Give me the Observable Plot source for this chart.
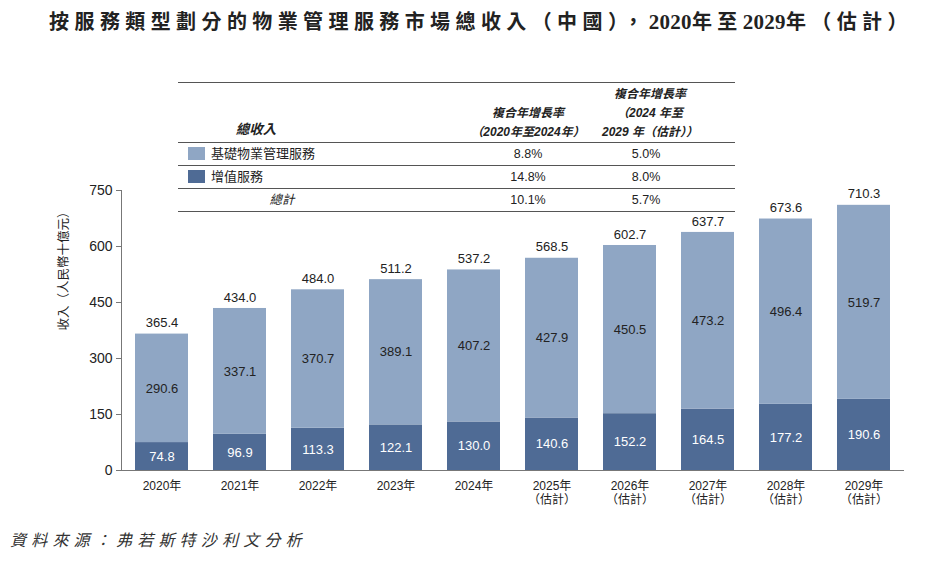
<!DOCTYPE html>
<html>
<head>
<meta charset="utf-8">
<script src="https://cdn.jsdelivr.net/npm/d3@7"></script>
<script src="https://cdn.jsdelivr.net/npm/@observablehq/plot@0.6"></script>
<style>
  body { margin: 0; background: #fff; }
  #wrap { position: relative; width: 945px; height: 565px; overflow: hidden; font-family: "Liberation Sans", "Noto Sans CJK TC", sans-serif; color: #222; }
  .abs { position: absolute; white-space: nowrap; }
  #title { top: 8px; left: 0; width: 962px; text-align: center; font-family: "Liberation Serif", "Noto Sans CJK TC", serif; font-weight: bold; font-size: 20px; letter-spacing: 5.4px; line-height: 28px; color: #222; }
  #title .num { letter-spacing: 0.3px; font-size: 21px; }
  #source { top: 528px; left: 10px; font-family: "Liberation Serif", "Noto Sans CJK TC", serif; font-style: italic; font-size: 16px; letter-spacing: 5.2px; line-height: 26px; color: #333; }
  #chart { position: absolute; top: 40px; left: 0; }
  .hline { position: absolute; left: 178px; width: 557px; height: 0; border-top: 1.2px solid #555; }
  .cell { position: absolute; font-size: 12px; line-height: 16px; text-align: center; }
  .hdr { font-style: italic; font-weight: bold; }
  .sw { position: absolute; width: 17px; height: 13px; }
</style>
</head>
<body>
<div id="wrap">
  <div id="title" class="abs">按服務類型劃分的物業管理服務市場總收入（中國），<span class="num">2020</span>年至<span class="num">2029</span>年（估計）</div>
  <div id="chart"></div>
  <div id="table"></div>
  <div id="source" class="abs">資料來源：弗若斯特沙利文分析</div>
</div>
<script>
const years = ["2020","2021","2022","2023","2024","2025","2026","2027","2028","2029"];
const forecastYears = ["2025","2026","2027","2028","2029"];
const basicServices = [290.6,337.1,370.7,389.1,407.2,427.9,450.5,473.2,496.4,519.7];
const valueAddedServices = [74.8,96.9,113.3,122.1,130.0,140.6,152.2,164.5,177.2,190.6];
const totals = [365.4,434.0,484.0,511.2,537.2,568.5,602.7,637.7,673.6,710.3];
const seriesNames = ["增值服務","基礎物業管理服務"];
const seriesColors = ["#4f6b95","#8fa6c4"];
const yTicks = [0,150,300,450,600,750];
const cagrRows = [
  {name: "基礎物業管理服務", c1: "8.8%", c2: "5.0%"},
  {name: "增值服務", c1: "14.8%", c2: "8.0%"},
  {name: "總計", c1: "10.1%", c2: "5.7%"}
];

const stacked = [];
years.forEach((y, i) => {
  stacked.push({year: y, series: seriesNames[0], value: valueAddedServices[i]});
  stacked.push({year: y, series: seriesNames[1], value: basicServices[i]});
});
const totalData = years.map((y, i) => ({year: y, value: totals[i]}));

const fmtX = y => forecastYears.includes(y) ? `${y}年\n（估計）` : `${y}年`;

const chart = Plot.plot({
  width: 945,
  height: 480,
  marginTop: 150,
  marginBottom: 50,
  marginLeft: 121,
  marginRight: 41,
  style: {fontFamily: "'Liberation Sans', 'Noto Sans CJK TC', sans-serif", color: "#222", background: "transparent"},
  x: {domain: years, paddingInner: 0.32, paddingOuter: 0.17, label: null},
  y: {domain: [0, 750], label: null},
  color: {domain: seriesNames, range: seriesColors},
  marks: [
    Plot.barY(stacked, {x: "year", y: "value", fill: "series", order: seriesNames}),
    Plot.text(stacked, Plot.stackY({x: "year", y: "value", z: "series", order: seriesNames, text: d => d.value.toFixed(1),
      fill: d => d.series === seriesNames[0] ? "#fff" : "#222", fontSize: 13})),
    Plot.text(totalData, {x: "year", y: "value", text: d => d.value.toFixed(1), dy: -11, fontSize: 13, fill: "#222"}),
    Plot.axisY({ticks: yTicks, tickSize: 5, tickPadding: 4, fontSize: 14, stroke: "#777", label: null}),
    Plot.axisX({tickSize: 0, tickPadding: 9, fontSize: 12, tickFormat: fmtX, lineHeight: 1.2, label: null}),
    Plot.frame({anchor: "left", stroke: "#777"}),
    Plot.ruleY([0], {stroke: "#777", strokeWidth: 1.2}),
    Plot.text(["收入（人民幣十億元）"], {frameAnchor: "left", dx: -58, rotate: -90, fontSize: 12.5, fill: "#222", text: d => d})
  ]
});
document.getElementById("chart").appendChild(chart);

// CAGR table overlay
const t = document.getElementById("table");
function add(html, cls, style) {
  const d = document.createElement("div");
  d.className = cls;
  Object.assign(d.style, style);
  d.innerHTML = html;
  t.appendChild(d);
  return d;
}
[82, 142, 165, 188, 211].forEach(top => add("", "hline", {top: top + "px"}));
add("總收入", "cell hdr", {left: "226px", top: "122px", width: "60px", fontSize: "13.5px"});
add("複合年增長率<br>（2020年至2024年）", "cell hdr", {left: "458px", top: "104px", width: "140px", lineHeight: "19px"});
add("複合年增長率<br>（2024 年至<br>2029 年（估計））", "cell hdr", {left: "580px", top: "85px", width: "140px", lineHeight: "19px"});
const rowCenters = [154, 177, 200];
cagrRows.forEach((r, i) => {
  const top = (rowCenters[i] - 8) + "px";
  if (i < 2) {
    add("", "sw", {left: "188px", top: (rowCenters[i] - 7) + "px", background: seriesColors[1 - i]});
    add(r.name, "cell", {left: "211px", top, textAlign: "left", fontSize: "13px"});
  } else {
    add(r.name, "cell", {left: "255px", top, width: "54px", fontStyle: "italic", fontSize: "12.5px"});
  }
  add(r.c1, "cell", {left: "478px", top, width: "100px", fontSize: "12.5px"});
  add(r.c2, "cell", {left: "596px", top, width: "100px", fontSize: "12.5px"});
});
</script>
</body>
</html>
